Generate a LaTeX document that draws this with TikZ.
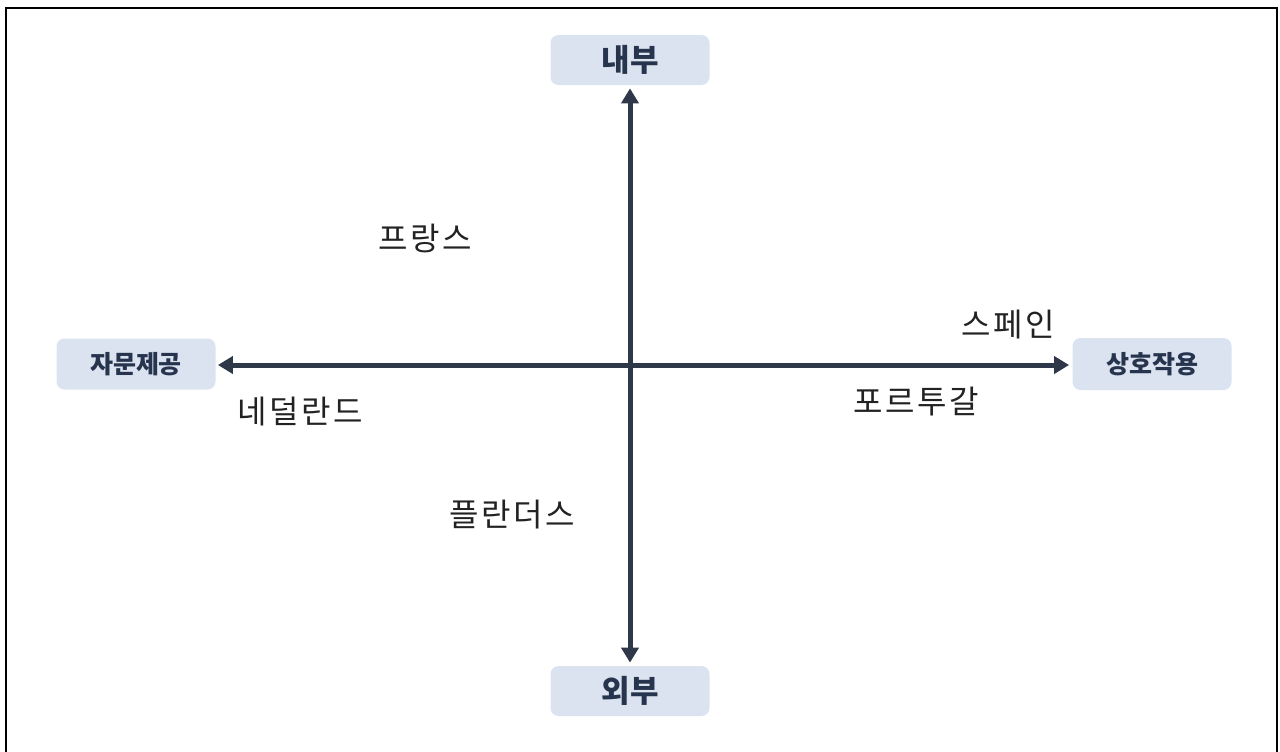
\documentclass[tikz,border=0pt]{standalone}
\usepackage{fontspec}
\setmainfont{Noto Sans CJK KR}
\newfontfamily\krsp{Noto Sans CJK KR}[LetterSpace=8]
\usetikzlibrary{arrows.meta}
\definecolor{boxfill}{HTML}{DCE3F0}
\definecolor{boxtext}{HTML}{27344D}
\definecolor{axis}{HTML}{2E3849}
\definecolor{lbl}{HTML}{222222}
\tikzset{
  catbox/.style={fill=boxfill, rounded corners=4pt, inner sep=0pt, text=boxtext, font=\bfseries},
  axisline/.style={draw=axis, line width=2.5pt, {Triangle[width=8.5pt,length=7.5pt]}-{Triangle[width=8.5pt,length=7.5pt]}},
  country/.style={text=lbl, font=\krsp\fontsize{16}{18}\selectfont, inner sep=0pt}
}
\begin{document}
\begin{tikzpicture}[x=0.5pt,y=-0.5pt]
\useasboundingbox (0,0) rectangle (1280,751);
\fill[white] (0,0) rectangle (1280,751);
\draw[line width=1.2pt, black] (6,760) -- (6,8) -- (1277,8) -- (1277,760);
\node[catbox, minimum width=79.5pt, minimum height=25pt, font=\bfseries\fontsize{15.5}{17}\selectfont] (in) at (630,60) {내부};
\node[catbox, minimum width=79.5pt, minimum height=25pt, font=\bfseries\fontsize{15.5}{17}\selectfont] (out) at (630,691) {외부};
\node[catbox, minimum width=79.5pt, minimum height=25.5pt, font=\bfseries\fontsize{12.5}{14}\selectfont] (adv) at (136,364) {자문제공};
\node[catbox, minimum width=79.5pt, minimum height=26pt, font=\bfseries\fontsize{12.5}{14}\selectfont] (int) at (1152,364) {상호작용};
\draw[axisline, shorten <=1.5pt, shorten >=1.5pt] (out.north) -- (in.south);
\draw[axisline, shorten <=1pt, shorten >=1.5pt] (adv.east |- 0,365) -- (int.west |- 0,365);
\node[country] (fr) at (425,238) {프랑스};
\node[country] (es) at (1008,325) {스페인};
\node[country] (pt) at (916,402) {포르투갈};
\node[country] (nl) at (300,412) {네덜란드};
\node[country] (fl) at (512,515) {플란더스};
\end{tikzpicture}
\end{document}
